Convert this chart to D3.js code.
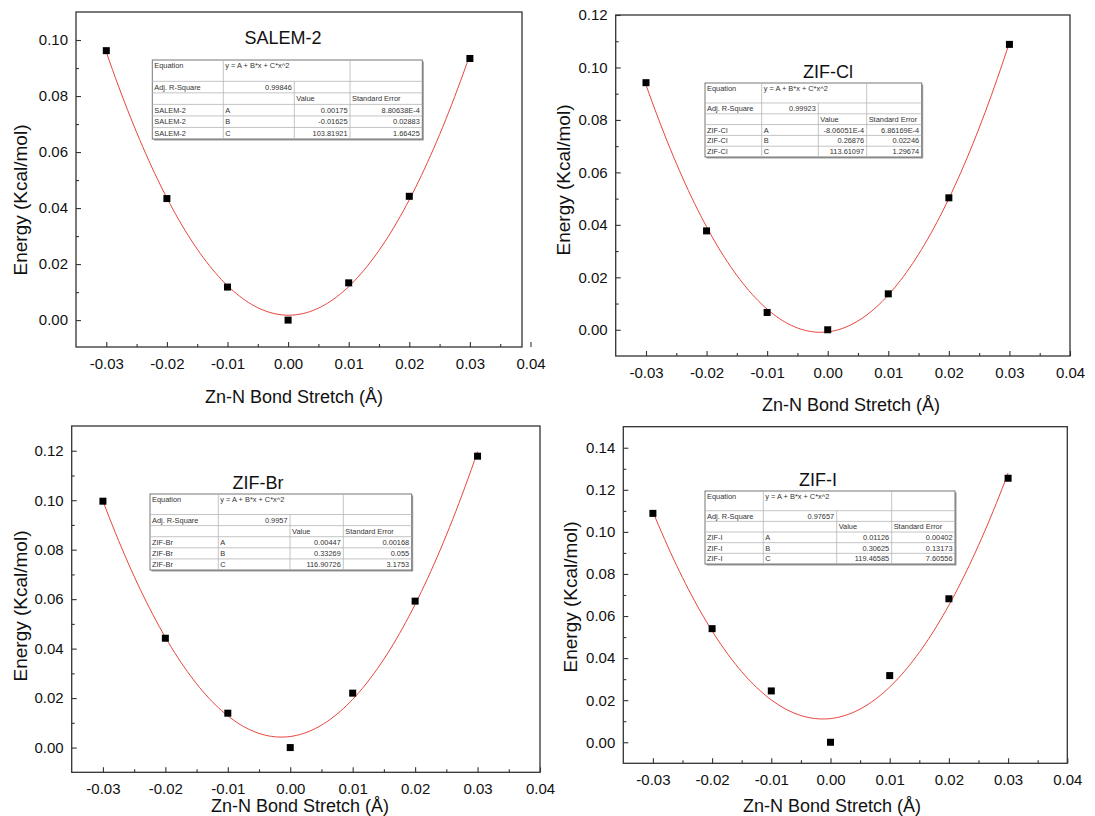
<!DOCTYPE html>
<html>
<head>
<meta charset="utf-8">
<script src="https://cdn.jsdelivr.net/npm/d3@7"></script>
<style>
  html, body { margin: 0; padding: 0; background: #fff; }
  svg { display: block; }
  text { font-family: Arial, "Liberation Sans", sans-serif; }
</style>
</head>
<body>
<svg id="chart" width="1095" height="816"></svg>
<script>
// ---------------- DATA ----------------
const bondStretch = [-0.03, -0.02, -0.01, 0.00, 0.01, 0.02, 0.03];

const energySALEM2 = [0.0962, 0.0434, 0.0118, 0.0000, 0.0133, 0.0442, 0.0934];
const energyZIFCl  = [0.0942, 0.0377, 0.0066, 0.0000, 0.0137, 0.0503, 0.1088];
const energyZIFBr  = [0.0996, 0.0442, 0.0139, 0.0000, 0.0220, 0.0592, 0.1178];
const energyZIFI   = [0.1088, 0.0540, 0.0244, 0.0000, 0.0317, 0.0682, 0.1255];

// fit parameters A, B, C  (y = A + B*x + C*x^2)
const fitSALEM2 = [0.00175, -0.01625, 103.81921];
const fitZIFCl  = [-8.06051e-4, 0.26876, 113.61097];
const fitZIFBr  = [0.00447, 0.33269, 116.90726];
const fitZIFI   = [0.01126, 0.30625, 119.46585];

const panelNames = ["SALEM-2", "ZIF-Cl", "ZIF-Br", "ZIF-I"];
const adjRSquare = ["0.99846", "0.99923", "0.9957", "0.97657"];
const paramNames = ["A", "B", "C"];
const valueLabelsSALEM2 = ["0.00175", "-0.01625", "103.81921"];
const errorLabelsSALEM2 = ["8.80638E-4", "0.02883", "1.66425"];
const valueLabelsZIFCl  = ["-8.06051E-4", "0.26876", "113.61097"];
const errorLabelsZIFCl  = ["6.86169E-4", "0.02246", "1.29674"];
const valueLabelsZIFBr  = ["0.00447", "0.33269", "116.90726"];
const errorLabelsZIFBr  = ["0.00168", "0.055", "3.1753"];
const valueLabelsZIFI   = ["0.01126", "0.30625", "119.46585"];
const errorLabelsZIFI   = ["0.00402", "0.13173", "7.60556"];

const xTicks = [-0.03, -0.02, -0.01, 0.00, 0.01, 0.02, 0.03, 0.04];
const xMinorTicks = [-0.025, -0.015, -0.005, 0.005, 0.015, 0.025, 0.035];
const yTicksSALEM2 = [0.00, 0.02, 0.04, 0.06, 0.08, 0.10];
const yTicksZIFCl  = [0.00, 0.02, 0.04, 0.06, 0.08, 0.10, 0.12];
const yTicksZIFBr  = [0.00, 0.02, 0.04, 0.06, 0.08, 0.10, 0.12];
const yTicksZIFI   = [0.00, 0.02, 0.04, 0.06, 0.08, 0.10, 0.12, 0.14];
const yMinorSALEM2 = [0.01, 0.03, 0.05, 0.07, 0.09];
const yMinorZIFCl  = [0.01, 0.03, 0.05, 0.07, 0.09, 0.11];
const yMinorZIFBr  = [0.01, 0.03, 0.05, 0.07, 0.09, 0.11];
const yMinorZIFI   = [0.01, 0.03, 0.05, 0.07, 0.09, 0.11, 0.13];

const xAxisTitle = "Zn-N Bond Stretch (Å)";
const yAxisTitle = "Energy (Kcal/mol)";
const equationText = "y = A + B*x + C*x^2";

// ---------------- LAYOUT ----------------
const layout = [
  { left: 76, right: 522, top: 12, bottom: 347, xDom: [-0.035, 0.0386], yDom: [-0.0096, 0.11],
    titleX: 283, titleY: 44, xTitleX: 294, xTitleDy: 56, yTitleX: 27, yTitleY: 200,
    table: { cols: [152.3, 223.3, 294.3, 350, 422.3], top: 60, bottom: 139 } },
  { left: 615.7, right: 1070, top: 15, bottom: 356, xDom: [-0.035, 0.04], yDom: [-0.01, 0.12],
    titleX: 828, titleY: 78, xTitleX: 851, xTitleDy: 55, yTitleX: 570, yTitleY: 180,
    table: { cols: [705, 761.7, 818.3, 866.7, 921.7], top: 83, bottom: 157 } },
  { left: 71.7, right: 540, top: 426, bottom: 772.3, xDom: [-0.035, 0.04], yDom: [-0.01, 0.13],
    titleX: 258, titleY: 489, xTitleX: 300, xTitleDy: 40, yTitleX: 27, yTitleY: 606,
    table: { cols: [150, 218.3, 290, 343.3, 411.7], top: 494, bottom: 570 } },
  { left: 623.3, right: 1067.3, top: 426.7, bottom: 763.3, xDom: [-0.035, 0.04], yDom: [-0.01, 0.15],
    titleX: 818, titleY: 486, xTitleX: 832, xTitleDy: 49, yTitleX: 577, yTitleY: 597,
    table: { cols: [705, 763.3, 836.7, 891.7, 955], top: 491, bottom: 564 } }
];

const energies = [energySALEM2, energyZIFCl, energyZIFBr, energyZIFI];
const fits = [fitSALEM2, fitZIFCl, fitZIFBr, fitZIFI];
const yTicksAll = [yTicksSALEM2, yTicksZIFCl, yTicksZIFBr, yTicksZIFI];
const yMinorAll = [yMinorSALEM2, yMinorZIFCl, yMinorZIFBr, yMinorZIFI];
const valueLabels = [valueLabelsSALEM2, valueLabelsZIFCl, valueLabelsZIFBr, valueLabelsZIFI];
const errorLabels = [errorLabelsSALEM2, errorLabelsZIFCl, errorLabelsZIFBr, errorLabelsZIFI];

const svg = d3.select("#chart");
const fmt = d => d.toFixed(2);

layout.forEach((L, i) => {
  const g = svg.append("g");
  const x = d3.scaleLinear().domain(L.xDom).range([L.left, L.right]);
  const y = d3.scaleLinear().domain(L.yDom).range([L.bottom, L.top]);

  // fit curve
  const A = fits[i][0], B = fits[i][1], C = fits[i][2];
  const xs = d3.range(bondStretch[0], bondStretch[bondStretch.length - 1] + 1e-9, 0.0005);
  const line = d3.line().x(d => x(d)).y(d => y(A + B * d + C * d * d)).curve(d3.curveMonotoneX);
  g.append("path").attr("d", line(xs)).attr("fill", "none")
    .attr("stroke", "#e8453c").attr("stroke-width", 1);

  // points
  const s = 7;
  g.selectAll("rect.pt").data(bondStretch).enter().append("rect")
    .attr("class", "pt")
    .attr("x", d => x(d) - s / 2)
    .attr("y", (d, j) => y(energies[i][j]) - s / 2)
    .attr("width", s).attr("height", s).attr("fill", "#000");

  // axes
  const xAxis = g.append("g").attr("transform", `translate(0,${L.bottom})`)
    .call(d3.axisBottom(x).tickValues(xTicks).tickSize(-5).tickPadding(11).tickFormat(fmt));
  const xMinor = g.append("g").attr("transform", `translate(0,${L.bottom})`)
    .call(d3.axisBottom(x).tickValues(xMinorTicks).tickSize(-3).tickFormat(""));
  const yAxis = g.append("g").attr("transform", `translate(${L.left},0)`)
    .call(d3.axisLeft(y).tickValues(yTicksAll[i]).tickSize(-5).tickPadding(8).tickFormat(fmt));
  const yMinor = g.append("g").attr("transform", `translate(${L.left},0)`)
    .call(d3.axisLeft(y).tickValues(yMinorAll[i]).tickSize(-3).tickFormat(""));
  [xAxis, xMinor, yAxis, yMinor].forEach(a => {
    a.select(".domain").remove();
    a.selectAll("line").attr("stroke", "#333").attr("stroke-width", 1.1);
    a.selectAll("text").attr("font-size", 15).attr("fill", "#111")
      .attr("font-family", "Arial, 'Liberation Sans', sans-serif");
  });

  // frame
  g.append("rect").attr("x", L.left).attr("y", L.top)
    .attr("width", L.right - L.left).attr("height", L.bottom - L.top)
    .attr("fill", "none").attr("stroke", "#333").attr("stroke-width", 1.3);

  // titles
  g.append("text").attr("x", L.titleX).attr("y", L.titleY).attr("text-anchor", "middle")
    .attr("font-size", 18).attr("fill", "#111").text(panelNames[i]);
  g.append("text").attr("x", L.xTitleX).attr("y", L.bottom + L.xTitleDy).attr("text-anchor", "middle")
    .attr("font-size", 18).attr("fill", "#111").text(xAxisTitle);
  g.append("text").attr("transform", `translate(${L.yTitleX},${L.yTitleY}) rotate(-90)`)
    .attr("text-anchor", "middle").attr("font-size", 19).attr("fill", "#111").text(yAxisTitle);

  // table
  const T = L.table, c = T.cols;
  const H = T.bottom - T.top, eqH = H * 0.27, rH = (H - eqH) / 5;
  const tg = g.append("g");
  tg.append("rect").attr("x", c[0] + 1.5).attr("y", T.top + 1.5)
    .attr("width", c[4] - c[0]).attr("height", H).attr("fill", "#9a9a9a");
  tg.append("rect").attr("x", c[0]).attr("y", T.top)
    .attr("width", c[4] - c[0]).attr("height", H).attr("fill", "#fff")
    .attr("stroke", "#777").attr("stroke-width", 1);
  const ln = (x1, y1, x2, y2) => tg.append("line").attr("x1", x1).attr("y1", y1)
    .attr("x2", x2).attr("y2", y2).attr("stroke", "#b5b5b5").attr("stroke-width", 0.8);
  for (let k = 0; k < 5; k++) ln(c[0], T.top + eqH + k * rH, c[4], T.top + eqH + k * rH);
  ln(c[1], T.top, c[1], T.bottom);
  ln(c[2], T.top + eqH, c[2], T.bottom);
  ln(c[3], T.top, c[3], T.bottom);
  const txt = (tx, ty, t, anchor) => tg.append("text").attr("x", tx).attr("y", ty)
    .attr("font-size", 7.4).attr("fill", "#333").attr("text-anchor", anchor || "start").text(t);
  const rowBase = k => T.top + eqH + k * rH + rH * 0.5 + 2.6;
  txt(c[0] + 2, T.top + 8, "Equation");
  txt(c[1] + 2, T.top + 8, equationText);
  txt(c[0] + 2, rowBase(0), "Adj. R-Square");
  txt(c[2] - 2.5, rowBase(0), adjRSquare[i], "end");
  txt(c[2] + 2, rowBase(1), "Value");
  txt(c[3] + 2, rowBase(1), "Standard Error");
  paramNames.forEach((p, k) => {
    txt(c[0] + 2, rowBase(k + 2), panelNames[i]);
    txt(c[1] + 2, rowBase(k + 2), p);
    txt(c[3] - 2.5, rowBase(k + 2), valueLabels[i][k], "end");
    txt(c[4] - 2.5, rowBase(k + 2), errorLabels[i][k], "end");
  });
});
</script>
</body>
</html>
